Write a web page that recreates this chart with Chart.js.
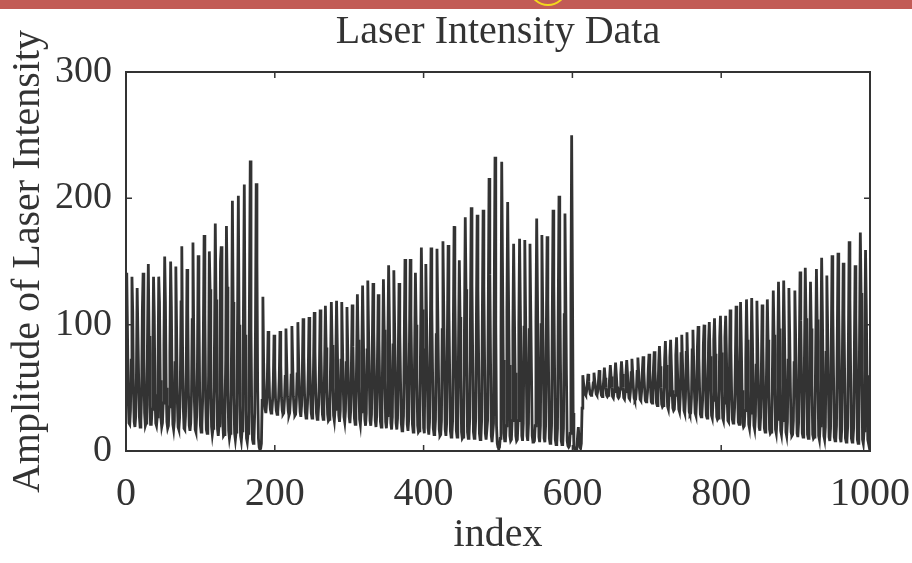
<!DOCTYPE html>
<html>
<head>
<meta charset="utf-8">
<title>Laser Intensity Data</title>
<script src="https://cdn.jsdelivr.net/npm/chart.js@4.4.1/dist/chart.umd.min.js"></script>
<style>
  body { margin: 0; background: #fff; }
  #wrap { position: relative; width: 912px; height: 563px; }
  #band { position: absolute; left: 0; top: 0; width: 912px; height: 9px; background: #c25b55; overflow: hidden; }
  #band span { position: absolute; left: 530px; top: -26px; width: 32px; height: 28px; border: 2.5px solid #f3d81c; border-radius: 50%; }
</style>
</head>
<body>
<div id="wrap">
  <canvas id="laserChart" width="912" height="563"></canvas>
  <div id="band"><span></span></div>
</div>
<script>
// Montée en amplitude avant le premier effondrement (indices 0-177)
const epochA = [
  86,
  141, 95, 41, 22, 21, 32, 72,
  138, 111, 48, 23, 19, 27, 59,
  129, 129, 58, 27, 19, 24, 46, 112,
  141, 73, 30, 20, 22, 39, 95,
  148, 91, 36, 21, 21, 33, 76,
  138, 107, 45, 22, 20, 27, 62,
  138, 118, 56, 26, 19, 22, 38, 84,
  154, 118, 50, 23, 18, 20, 35, 78,
  150, 114, 48, 21, 17, 24, 70,
  146, 98, 40, 19, 17, 26, 52, 118,
  162, 84, 34, 18, 17, 28, 64,
  144, 112, 46, 20, 16, 22, 44, 104,
  165, 96, 38, 17, 15, 28, 68,
  155, 118, 48, 20, 15, 20, 40, 96,
  171, 108, 42, 17, 14, 24, 60,
  158, 128, 50, 19, 13, 18, 36, 90,
  180, 120, 46, 17, 12, 20, 52,
  150, 162, 62, 22, 12, 13, 28, 72,
  178, 130, 48, 16, 10, 14, 34, 90,
  198, 118, 42, 14, 9, 15, 40, 110,
  202, 100, 36, 12, 8, 16, 44, 124,
  211, 92, 32, 10, 7, 14, 42, 128,
  230, 96, 30, 9, 6, 10, 30, 96,
  212, 150, 48,
];

// Effondrement puis deuxième montée (indices 178-605)
const epochB = [
  10, 3, 1, 2, 6, 40,
  122, 70, 40, 33, 30, 38, 58,
  95, 68, 42, 33, 30, 31, 40, 56,
  92, 66, 41, 32, 29, 31, 40, 58,
  95, 68, 42, 32, 29, 30, 40, 59,
  97, 70, 43, 32, 28, 30, 41, 60,
  99, 71, 43, 32, 28, 29, 40, 61,
  102, 73, 44, 31, 27, 36, 63,
  105, 75, 45, 31, 26, 27, 38, 64,
  106, 76, 45, 30, 26, 35, 66,
  110, 79, 47, 30, 25, 26, 37, 67,
  112, 80, 48, 29, 25, 34, 69,
  115, 82, 49, 29, 24, 25, 36, 71,
  118, 84, 50, 28, 24, 33, 72,
  119, 85, 50, 28, 23, 32, 72,
  118, 84, 50, 27, 23, 32, 70,
  114, 82, 48, 27, 22, 32, 70,
  116, 83, 48, 26, 21, 31, 74,
  124, 88, 51, 25, 21, 31, 78,
  131, 93, 54, 25, 20, 30, 80,
  135, 96, 56, 24, 20, 29, 80,
  133, 95, 55, 24, 19, 28, 75,
  124, 88, 51, 23, 19, 28, 80,
  136, 96, 56, 23, 18, 28, 86,
  147, 104, 60, 22, 17, 27, 84,
  143, 101, 59, 22, 17, 26, 78,
  133, 94, 55, 22, 16, 17, 28, 88,
  152, 107, 62, 21, 16, 25, 88,
  152, 107, 62, 21, 15, 24, 82,
  141, 100, 58, 20, 15, 16, 27, 92,
  161, 112, 62, 18, 14, 80,
  148, 104, 60, 18, 13, 23, 92,
  161, 113, 65, 18, 13, 14, 25, 92,
  160, 112, 64, 17, 12, 13, 24, 96,
  166, 116, 66, 17, 12, 22, 94,
  163, 114, 65, 16, 11, 12, 24, 102,
  178, 124, 70, 16, 11, 21, 88,
  151, 106, 60, 15, 10, 11, 24, 106,
  185, 128, 72, 15, 10, 11, 26, 110,
  193, 132, 74, 15, 10, 11, 25, 108,
  187, 128, 72, 14, 9, 10, 24, 110,
  191, 130, 70, 14, 9, 9, 24, 122,
  216, 140, 70, 12, 7, 7, 22, 130,
  233, 100, 20, 6, 3, 2, 3, 10, 90,
  229, 150, 72, 14, 8, 8, 20, 110,
  197, 132, 68, 12, 8, 9, 24, 96,
  164, 112, 62, 12, 8, 9, 24, 100,
  168, 115, 64, 12, 8, 22, 98,
  167, 114, 64, 12, 8, 22, 96,
  164, 112, 62, 12, 7, 7, 8, 20, 102,
  184, 126, 68, 11, 7, 20, 100,
  171, 118, 64, 10, 7, 20, 98,
  170, 118, 62, 10, 6, 7, 20, 110,
  191, 132, 68, 9, 5, 6, 18, 116,
  202, 138, 68, 8, 5, 5, 18, 108,
  188, 128, 60, 8, 4, 3, 4, 14, 120,
  250, 140, 30, 4, 1, 0, 1,
];

// Redémarrage à faible amplitude puis croissance (indices 606-999)
const epochC = [
  3, 12, 19, 9, 3, 2, 6, 34,
  60, 54, 49, 45, 44, 47, 53,
  61, 55, 49, 45, 44, 45, 48, 54,
  62, 56, 50, 45, 44, 47, 55,
  64, 57, 49, 44, 43, 47, 56,
  66, 58, 50, 44, 43, 44, 49, 58,
  68, 59, 50, 43, 42, 47, 59,
  70, 61, 51, 43, 42, 43, 49, 61,
  71, 61, 50, 42, 41, 47, 61,
  72, 62, 50, 42, 41, 47, 62,
  73, 62, 50, 42, 40, 41, 48, 63,
  74, 63, 50, 41, 40, 47, 63,
  75, 63, 50, 40, 39, 40, 47, 65,
  77, 64, 50, 39, 38, 46, 66,
  79, 64, 49, 38, 36, 45, 69,
  83, 67, 50, 37, 35, 36, 46, 73,
  87, 68, 49, 35, 33, 44, 74,
  88, 68, 48, 34, 32, 33, 44, 76,
  90, 69, 48, 33, 31, 43, 77,
  92, 70, 48, 32, 30, 42, 78,
  94, 71, 48, 31, 29, 30, 42, 80,
  96, 72, 47, 30, 28, 41, 82,
  99, 74, 48, 29, 27, 28, 40, 84,
  100, 74, 47, 28, 26, 40, 86,
  102, 75, 47, 28, 26, 40, 88,
  105, 77, 48, 27, 25, 26, 40, 90,
  107, 78, 47, 26, 24, 38, 90,
  107, 78, 42, 24, 23, 60,
  112, 82, 46, 25, 22, 23, 34, 70,
  115, 84, 46, 23, 21, 64,
  118, 86, 48, 22, 19, 20, 32, 72,
  120, 88, 48, 21, 18, 30, 70,
  121, 88, 48, 20, 17, 28, 68,
  119, 86, 46, 19, 16, 27, 66,
  116, 84, 45, 18, 15, 26, 68,
  120, 88, 47, 17, 14, 15, 26, 72,
  127, 92, 50, 17, 14, 25, 76,
  134, 97, 52, 16, 13, 24, 76,
  135, 98, 52, 15, 12, 23, 72,
  129, 94, 50, 15, 12, 13, 24, 70,
  127, 92, 49, 14, 11, 22, 80,
  142, 103, 55, 14, 11, 21, 82,
  145, 105, 56, 13, 10, 20, 76,
  134, 97, 52, 13, 10, 11, 22, 80,
  144, 104, 56, 12, 9, 20, 86,
  153, 110, 58, 12, 9, 19, 78,
  139, 100, 54, 11, 8, 18, 86,
  155, 112, 60, 11, 8, 9, 20, 88,
  157, 113, 60, 10, 7, 17, 84,
  149, 108, 57, 10, 7, 8, 19, 92,
  166, 120, 62, 10, 7, 8, 18, 82,
  147, 106, 56, 9, 6, 16, 96,
  173, 125, 64, 9, 6, 16, 88,
  159, 116, 60, 9, 6, 14,
];

const xTickValues = [0, 200, 400, 600, 800, 1000];
const yTickValues = [0, 100, 200, 300];
const chartTitle = "Laser Intensity Data";

const intensity = epochA.concat(epochB, epochC);
const sampleIndex = intensity.map((_, i) => i);

const ink = "#333333";
const serif = "'Liberation Serif', 'DejaVu Serif', 'Times New Roman', serif";

// Cadre complet, graduations vers l'intérieur, titre centré sur la zone de tracé
const frameTicks = {
  id: "frameTicks",
  afterDatasetsDraw(chart) {
    const { ctx, chartArea: a, scales } = chart;
    ctx.save();
    ctx.strokeStyle = ink;
    ctx.lineWidth = 2;
    ctx.strokeRect(a.left, a.top, a.right - a.left, a.bottom - a.top);
    ctx.lineWidth = 1.5;
    ctx.beginPath();
    scales.x.ticks.forEach((t) => {
      const px = scales.x.getPixelForValue(t.value);
      ctx.moveTo(px, a.bottom);
      ctx.lineTo(px, a.bottom - 6);
      ctx.moveTo(px, a.top);
      ctx.lineTo(px, a.top + 6);
    });
    scales.y.ticks.forEach((t) => {
      const py = scales.y.getPixelForValue(t.value);
      ctx.moveTo(a.left, py);
      ctx.lineTo(a.left + 6, py);
      ctx.moveTo(a.right, py);
      ctx.lineTo(a.right - 6, py);
    });
    ctx.stroke();

    ctx.fillStyle = ink;
    ctx.font = "40px " + serif;
    ctx.textAlign = "center";
    ctx.textBaseline = "alphabetic";
    ctx.fillText(chartTitle, (a.left + a.right) / 2, 43);
    ctx.restore();
  },
};

const ctx = document.getElementById("laserChart").getContext("2d");
new Chart(ctx, {
  type: "line",
  data: {
    labels: sampleIndex,
    datasets: [
      {
        label: "Laser intensity",
        data: intensity,
        borderColor: ink,
        borderWidth: 2.8,
        borderJoinStyle: "miter",
        pointRadius: 0,
        tension: 0,
        fill: false,
      },
    ],
  },
  options: {
    responsive: false,
    animation: false,
    layout: { padding: { top: 72, right: 42, bottom: 0, left: 0 } },
    plugins: {
      legend: { display: false },
      tooltip: { enabled: false },
      title: { display: false },
    },
    scales: {
      x: {
        type: "linear",
        min: 0,
        max: 1000,
        afterBuildTicks: (s) => {
          s.ticks = xTickValues.map((v) => ({ value: v }));
        },
        afterFit: (s) => {
          s.height = 112;
          s.paddingLeft = 0;
          s.paddingRight = 0;
        },
        grid: { display: false, drawTicks: false },
        border: { display: false },
        ticks: {
          color: ink,
          font: { family: serif, size: 40 },
          padding: 19,
          maxRotation: 0,
          autoSkip: false,
          callback: (v) => String(v),
        },
        title: {
          display: true,
          text: "index",
          color: ink,
          font: { family: serif, size: 40 },
          padding: { top: 0, bottom: 4 },
        },
      },
      y: {
        min: 0,
        max: 300,
        afterBuildTicks: (s) => {
          s.ticks = yTickValues.map((v) => ({ value: v }));
        },
        afterFit: (s) => {
          s.width = 126;
        },
        grid: { display: false, drawTicks: false },
        border: { display: false },
        ticks: {
          color: ink,
          font: { family: serif, size: 38 },
          padding: 14,
          callback: (v) => String(v),
        },
        title: {
          display: true,
          text: "Amplitude of Laser Intensity",
          color: ink,
          font: { family: serif, size: 40 },
          padding: { top: 4, bottom: 0 },
        },
      },
    },
  },
  plugins: [frameTicks],
});
</script>
</body>
</html>
